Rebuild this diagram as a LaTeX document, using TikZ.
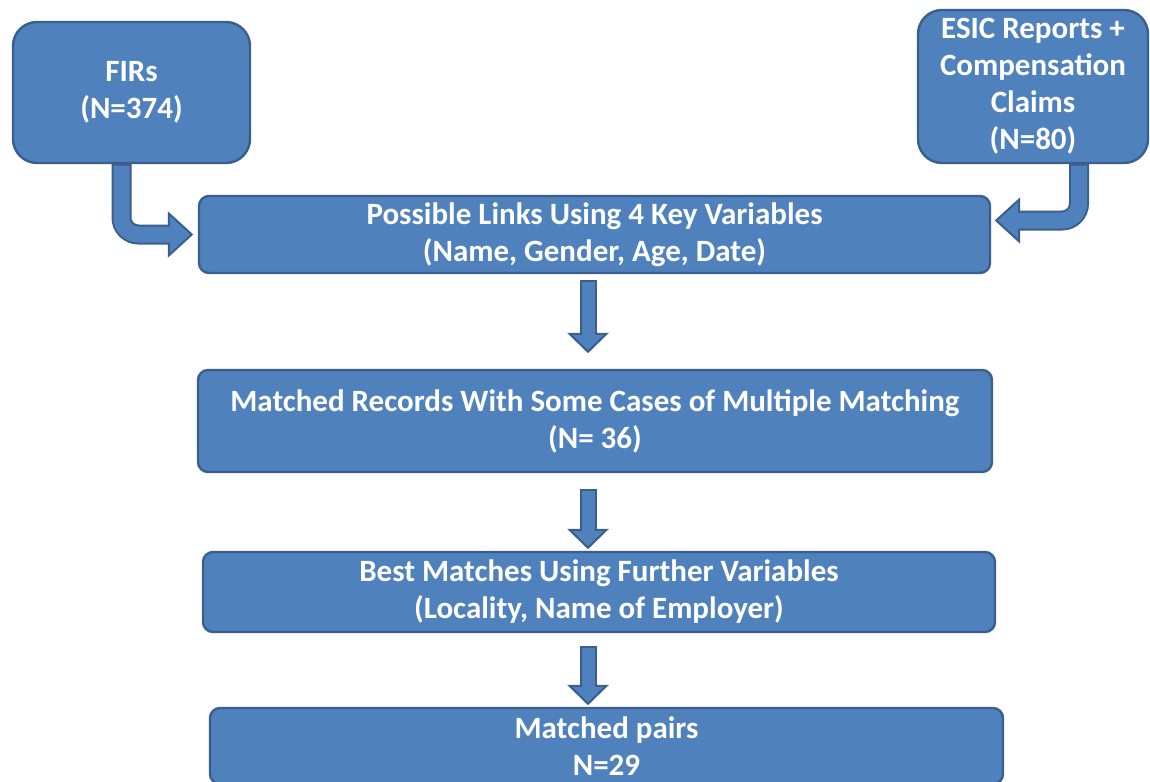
\documentclass[tikz,border=0pt]{standalone}
\usepackage{fontspec}
\setmainfont{Carlito}
\usetikzlibrary{calc}
\definecolor{boxblue}{HTML}{4F81BD}
\definecolor{boxline}{HTML}{3B5E8C}

\begin{document}
\begin{tikzpicture}[x=.5pt,y=-.5pt,
 box/.style={draw=boxline, fill=boxblue, line width=1.2pt, rounded corners=5pt, text=white, font=\bfseries\fontsize{15.5}{18.5}\selectfont, align=center, inner sep=0pt},
 shaftout/.style={draw=boxline, line width=8.5pt},
 shaftin/.style={draw=boxblue, line width=6.5pt},
 tiphead/.style={draw=boxline, fill=boxblue, line width=1pt, line join=miter}]
\useasboundingbox (0,0) rectangle (1150,781);
\coordinate (axis) at (588,0);
% boxes
\node[box, rounded corners=12pt, minimum width=118.5pt, minimum height=70.5pt] (fir) at (131.5,92.5) {FIRs\\(N=374)};
\node[box, rounded corners=12pt, minimum width=115pt, minimum height=76.5pt] (esic) at (1033,86.5) {ESIC Reports +\\Compensation\\Claims\\(N=80)};
\node[box, minimum width=395.5pt, minimum height=38.5pt] (links) at (594.5,234.5) {Possible Links Using 4 Key Variables\\(Name, Gender, Age, Date)};
\node[box, minimum width=397pt, minimum height=51pt] (records) at (595,421) {Matched Records With Some Cases of Multiple Matching\\(N= 36)};
\node[box, minimum width=396pt, minimum height=40pt] (best) at (599,592) {Best Matches Using Further Variables\\(Locality, Name of Employer)};
\node[box, minimum width=396.5pt, minimum height=38pt] (pairs) at (606.5,746) {Matched pairs\\N=29};
% straight arrows
\foreach \a/\b/\g/\h in {links/records/6/17, records/best/16/3, best/pairs/13/3} {
 \coordinate (top) at ($(axis |- \a.south)+(0,\g)$);
 \coordinate (tip) at ($(axis |- \b.north)+(0,-\h)$);
 \coordinate (base) at ($(tip)+(0,-18)$);
 \draw[shaftout] (top) -- ($(base)+(0,1)$);
 \draw[tiphead] ($(base)+(-18.5,0)$) -- (tip) -- ($(base)+(18.5,0)$) -- cycle;
 \draw[shaftin] ($(top)+(0,1.5)$) -- ($(base)+(0,2)$);
}
% bent arrows
\coordinate (firtop) at ($(fir.south)+(-10,0)$);
\coordinate (firtip) at ($(links.west)+(-6,0)$);
\coordinate (firbase) at ($(firtip)+(-23,0)$);
\draw[shaftout, line width=10pt, rounded corners=8.5pt] (firtop) |- ($(firbase)+(1,0)$);
\draw[tiphead] ($(firbase)+(0,-21)$) -- (firtip) -- ($(firbase)+(0,21)$) -- cycle;
\draw[shaftin, line width=8pt, rounded corners=8.5pt] ($(firtop)+(0,1.5)$) |- ($(firbase)+(2,0)$);
\coordinate (esictop) at ($(esic.south)+(46,0)$);
\coordinate (esictip) at ($(links.east)+(5,-14)$);
\coordinate (esicbase) at ($(esictip)+(23,0)$);
\draw[shaftout, line width=10pt, rounded corners=8.5pt] (esictop) |- ($(esicbase)+(-1,0)$);
\draw[tiphead] ($(esicbase)+(0,-21)$) -- (esictip) -- ($(esicbase)+(0,21)$) -- cycle;
\draw[shaftin, line width=8pt, rounded corners=8.5pt] ($(esictop)+(0,1.5)$) |- ($(esicbase)+(-2,0)$);
\end{tikzpicture}
\end{document}
